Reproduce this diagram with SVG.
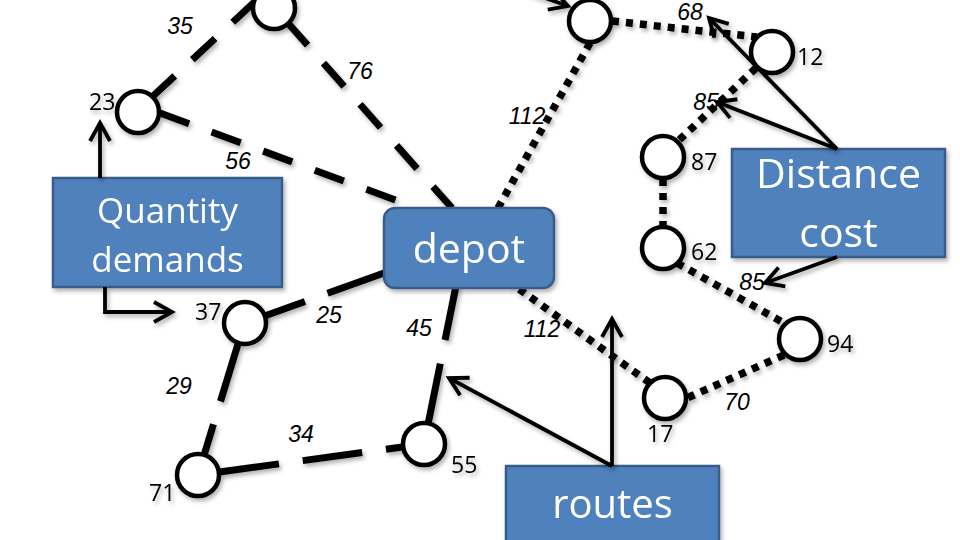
<svg xmlns="http://www.w3.org/2000/svg" width="960" height="540" viewBox="0 0 960 540">
<style>
.dash{fill:none;stroke:#000;stroke-width:7;stroke-linecap:butt}
.d1{stroke-dasharray:31 24}
.d2{stroke-dasharray:60 24}
.dot{fill:none;stroke:#000;stroke-width:7.5;stroke-dasharray:7 7;stroke-linecap:butt}
.arr{fill:none;stroke:#000;stroke-width:3.8;marker-end:url(#ah)}
.nd{fill:#fff;stroke:#000;stroke-width:4.5}
.nl{font-family:"Open Sans","Noto Sans",sans-serif;font-size:23px;fill:#000}
.el{font-family:"Liberation Sans",Arial,sans-serif;font-style:italic;font-size:23px;fill:#000;text-anchor:middle}
.box{fill:#4F81BD;stroke:#385D8A;stroke-width:2.5}
.bt{font-family:"Open Sans","Noto Sans",sans-serif;fill:#fff;text-anchor:middle}
</style>
<defs>
<marker id="ah" markerUnits="userSpaceOnUse" viewBox="-20 -12 24 24" refX="0" refY="0" markerWidth="24" markerHeight="24" orient="auto" overflow="visible">
<path d="M-18,-10 L0,0 L-18,10" fill="none" stroke="#000" stroke-width="3.8" stroke-linejoin="miter"/>
</marker>
<filter id="sh" x="-20%" y="-20%" width="140%" height="140%">
<feDropShadow dx="2" dy="3" stdDeviation="2" flood-color="#000" flood-opacity="0.3"/>
</filter>
</defs>
<g id="connectors" filter="url(#sh)">
<line class="dash d1" x1="152" y1="97" x2="262" y2="-5"/>
<line class="dash d1" x1="287" y1="22" x2="452" y2="208"/>
<line class="dash d1" x1="160" y1="113" x2="417" y2="208"/>
<line class="dash d2" x1="384" y1="273" x2="245" y2="323"/>
<line class="dash d2" x1="238" y1="344" x2="198" y2="475"/>
<line class="dash d2" x1="219.5" y1="472" x2="424" y2="444"/>
<line class="dash d2" x1="428.4" y1="422.4" x2="456" y2="286"/>
<line class="dot" x1="498" y1="208" x2="590" y2="43"/>
<line class="dot" x1="612" y1="21" x2="757" y2="37"/>
<line class="dot" x1="756" y1="68" x2="677" y2="142"/>
<line class="dot" x1="663" y1="179" x2="663" y2="226"/>
<line class="dot" x1="677" y1="263" x2="784" y2="323"/>
<line class="dot" x1="784" y1="355" x2="687" y2="398"/>
<line class="dot" x1="650" y1="383" x2="512" y2="284"/>
</g>
<g id="node-a" filter="url(#sh)"><circle class="nd" cx="274" cy="8" r="21"/></g>
<g id="node-23" filter="url(#sh)"><circle class="nd" cx="138" cy="112" r="21"/><text class="nl" x="89" y="110">23</text></g>
<g id="node-b" filter="url(#sh)"><circle class="nd" cx="590" cy="21" r="21"/></g>
<g id="node-12" filter="url(#sh)"><circle class="nd" cx="772" cy="52" r="21"/><text class="nl" x="797" y="65">12</text></g>
<g id="node-87" filter="url(#sh)"><circle class="nd" cx="663" cy="157" r="21"/><text class="nl" x="691" y="170">87</text></g>
<g id="node-62" filter="url(#sh)"><circle class="nd" cx="663" cy="248" r="21"/><text class="nl" x="691" y="260">62</text></g>
<g id="node-94" filter="url(#sh)"><circle class="nd" cx="800" cy="339" r="21"/><text class="nl" x="827" y="352">94</text></g>
<g id="node-17" filter="url(#sh)"><circle class="nd" cx="665" cy="398" r="21"/><text class="nl" x="647" y="442">17</text></g>
<g id="node-37" filter="url(#sh)"><circle class="nd" cx="245" cy="323" r="21"/><text class="nl" x="195" y="320">37</text></g>
<g id="node-71" filter="url(#sh)"><circle class="nd" cx="198" cy="475" r="21"/><text class="nl" x="149" y="501">71</text></g>
<g id="node-55" filter="url(#sh)"><circle class="nd" cx="424" cy="444" r="21"/><text class="nl" x="451" y="473">55</text></g>
<g id="edge-labels">
<text class="el" x="180" y="34">35</text>
<text class="el" x="360" y="79">76</text>
<text class="el" x="238" y="169">56</text>
<text class="el" x="527" y="124">112</text>
<text class="el" x="690" y="20">68</text>
<text class="el" x="706" y="110">85</text>
<text class="el" x="752" y="290">85</text>
<text class="el" x="542" y="337">112</text>
<text class="el" x="737" y="410">70</text>
<text class="el" x="329" y="323">25</text>
<text class="el" x="419" y="336">45</text>
<text class="el" x="179" y="394">29</text>
<text class="el" x="301" y="442">34</text>
</g>
<g id="node-quantity" filter="url(#sh)">
<rect class="box" x="53" y="178" width="229" height="109"/>
<text class="bt" x="167.5" y="223" font-size="35">Quantity</text>
<text class="bt" x="167.5" y="272" font-size="35">demands</text>
</g>
<g id="node-depot" filter="url(#sh)">
<rect class="box" x="384" y="208" width="170" height="80" rx="11"/>
<text class="bt" x="469" y="263" font-size="41">depot</text>
</g>
<g id="node-distance" filter="url(#sh)">
<rect class="box" x="732" y="149" width="213" height="108"/>
<text class="bt" x="838.5" y="188" font-size="41">Distance</text>
<text class="bt" x="838.5" y="247" font-size="41">cost</text>
</g>
<g id="node-routes" filter="url(#sh)">
<rect class="box" x="506" y="466" width="213" height="90"/>
<text class="bt" x="612.5" y="518" font-size="40">routes</text>
</g>
<g id="arrows" filter="url(#sh)">
<line class="arr" x1="100" y1="178" x2="100" y2="123"/>
<polyline class="arr" points="105,287 105,312 172,312"/>
<line class="arr" x1="837" y1="149" x2="709" y2="18"/>
<line class="arr" x1="837" y1="149" x2="717" y2="102"/>
<line class="arr" x1="837" y1="257" x2="765" y2="283"/>
<line class="arr" x1="612" y1="466" x2="612" y2="319"/>
<line class="arr" x1="612" y1="466" x2="449" y2="378"/>
<line class="arr" x1="525" y1="-9" x2="568" y2="6"/>
</g>
</svg>
